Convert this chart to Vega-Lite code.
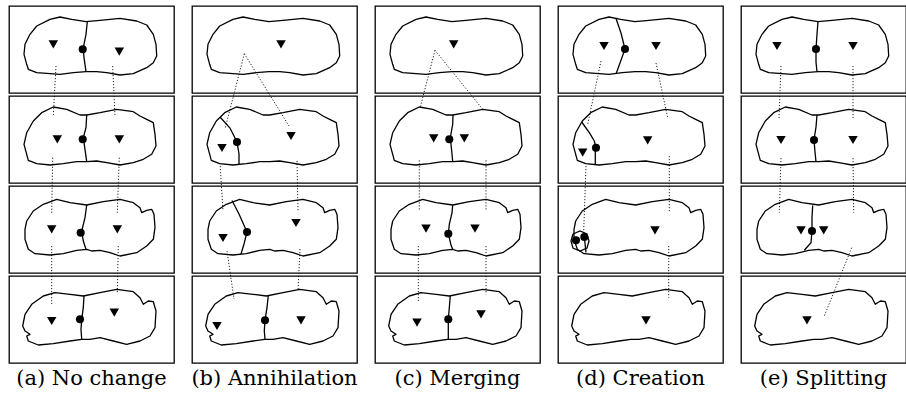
{
"$schema":"https://vega.github.io/schema/vega-lite/v6.json",
"padding":{"left":8,"top":5,"right":0,"bottom":0},
"bounds":"flush",
"background":"white",
"data":{"values":[
{"k":"blob","c":["a","b","c","d","e"],"r":1,"i":0,"x":27.7,"y":20},
{"k":"blob","c":["a","b","c","d","e"],"r":1,"i":1,"x":41,"y":13.3},
{"k":"blob","c":["a","b","c","d","e"],"r":1,"i":2,"x":51,"y":11},
{"k":"blob","c":["a","b","c","d","e"],"r":1,"i":3,"x":62.7,"y":13.3},
{"k":"blob","c":["a","b","c","d","e"],"r":1,"i":4,"x":77,"y":15.7},
{"k":"blob","c":["a","b","c","d","e"],"r":1,"i":5,"x":91,"y":14.3},
{"k":"blob","c":["a","b","c","d","e"],"r":1,"i":6,"x":111,"y":12.3},
{"k":"blob","c":["a","b","c","d","e"],"r":1,"i":7,"x":127.7,"y":15},
{"k":"blob","c":["a","b","c","d","e"],"r":1,"i":8,"x":137.7,"y":19},
{"k":"blob","c":["a","b","c","d","e"],"r":1,"i":9,"x":144.3,"y":28.3},
{"k":"blob","c":["a","b","c","d","e"],"r":1,"i":10,"x":147,"y":38.3},
{"k":"blob","c":["a","b","c","d","e"],"r":1,"i":11,"x":147.7,"y":50},
{"k":"blob","c":["a","b","c","d","e"],"r":1,"i":12,"x":144.3,"y":56.7},
{"k":"blob","c":["a","b","c","d","e"],"r":1,"i":13,"x":137.7,"y":61.7},
{"k":"blob","c":["a","b","c","d","e"],"r":1,"i":14,"x":124.3,"y":67.7},
{"k":"blob","c":["a","b","c","d","e"],"r":1,"i":15,"x":111,"y":69},
{"k":"blob","c":["a","b","c","d","e"],"r":1,"i":16,"x":97.7,"y":66.7},
{"k":"blob","c":["a","b","c","d","e"],"r":1,"i":17,"x":87.7,"y":65.7},
{"k":"blob","c":["a","b","c","d","e"],"r":1,"i":18,"x":77,"y":65.7},
{"k":"blob","c":["a","b","c","d","e"],"r":1,"i":19,"x":64.3,"y":66.7},
{"k":"blob","c":["a","b","c","d","e"],"r":1,"i":20,"x":51,"y":68.3},
{"k":"blob","c":["a","b","c","d","e"],"r":1,"i":21,"x":41,"y":67.7},
{"k":"blob","c":["a","b","c","d","e"],"r":1,"i":22,"x":27.7,"y":66.7},
{"k":"blob","c":["a","b","c","d","e"],"r":1,"i":23,"x":19.3,"y":63.3},
{"k":"blob","c":["a","b","c","d","e"],"r":1,"i":24,"x":17.7,"y":58.3},
{"k":"blob","c":["a","b","c","d","e"],"r":1,"i":25,"x":15,"y":48.3},
{"k":"blob","c":["a","b","c","d","e"],"r":1,"i":26,"x":16,"y":38.3},
{"k":"blob","c":["a","b","c","d","e"],"r":1,"i":27,"x":21,"y":28.3},
{"k":"blob","c":["a","b","c","d","e"],"r":1,"i":28,"x":27.7,"y":20},
{"k":"blob","c":["a","b","c","d","e"],"r":2,"i":0,"x":24.3,"y":25},
{"k":"blob","c":["a","b","c","d","e"],"r":2,"i":1,"x":32.7,"y":16.7},
{"k":"blob","c":["a","b","c","d","e"],"r":2,"i":2,"x":44.3,"y":11},
{"k":"blob","c":["a","b","c","d","e"],"r":2,"i":3,"x":57.7,"y":13.3},
{"k":"blob","c":["a","b","c","d","e"],"r":2,"i":4,"x":71,"y":19},
{"k":"blob","c":["a","b","c","d","e"],"r":2,"i":5,"x":77.7,"y":19},
{"k":"blob","c":["a","b","c","d","e"],"r":2,"i":6,"x":91,"y":16.7},
{"k":"blob","c":["a","b","c","d","e"],"r":2,"i":7,"x":107.7,"y":13.3},
{"k":"blob","c":["a","b","c","d","e"],"r":2,"i":8,"x":124.3,"y":15.7},
{"k":"blob","c":["a","b","c","d","e"],"r":2,"i":9,"x":131,"y":20},
{"k":"blob","c":["a","b","c","d","e"],"r":2,"i":10,"x":137.7,"y":23.3},
{"k":"blob","c":["a","b","c","d","e"],"r":2,"i":11,"x":144.3,"y":26.7},
{"k":"blob","c":["a","b","c","d","e"],"r":2,"i":12,"x":146,"y":38.3},
{"k":"blob","c":["a","b","c","d","e"],"r":2,"i":13,"x":147,"y":50},
{"k":"blob","c":["a","b","c","d","e"],"r":2,"i":14,"x":142.7,"y":58.3},
{"k":"blob","c":["a","b","c","d","e"],"r":2,"i":15,"x":134.3,"y":63.3},
{"k":"blob","c":["a","b","c","d","e"],"r":2,"i":16,"x":124.3,"y":66.7},
{"k":"blob","c":["a","b","c","d","e"],"r":2,"i":17,"x":111,"y":69},
{"k":"blob","c":["a","b","c","d","e"],"r":2,"i":18,"x":97.7,"y":66.7},
{"k":"blob","c":["a","b","c","d","e"],"r":2,"i":19,"x":87.7,"y":65},
{"k":"blob","c":["a","b","c","d","e"],"r":2,"i":20,"x":77.7,"y":65.7},
{"k":"blob","c":["a","b","c","d","e"],"r":2,"i":21,"x":67.7,"y":65.7},
{"k":"blob","c":["a","b","c","d","e"],"r":2,"i":22,"x":54.3,"y":67.7},
{"k":"blob","c":["a","b","c","d","e"],"r":2,"i":23,"x":41,"y":69},
{"k":"blob","c":["a","b","c","d","e"],"r":2,"i":24,"x":27.7,"y":67.7},
{"k":"blob","c":["a","b","c","d","e"],"r":2,"i":25,"x":19.3,"y":64.3},
{"k":"blob","c":["a","b","c","d","e"],"r":2,"i":26,"x":17.7,"y":58.3},
{"k":"blob","c":["a","b","c","d","e"],"r":2,"i":27,"x":15,"y":48.3},
{"k":"blob","c":["a","b","c","d","e"],"r":2,"i":28,"x":17.7,"y":36.7},
{"k":"blob","c":["a","b","c","d","e"],"r":2,"i":29,"x":24.3,"y":25},
{"k":"blob","c":["a","b","c","d","e"],"r":3,"i":0,"x":17.7,"y":35},
{"k":"blob","c":["a","b","c","d","e"],"r":3,"i":1,"x":24.3,"y":25},
{"k":"blob","c":["a","b","c","d","e"],"r":3,"i":2,"x":34.3,"y":18.3},
{"k":"blob","c":["a","b","c","d","e"],"r":3,"i":3,"x":47.7,"y":13.3},
{"k":"blob","c":["a","b","c","d","e"],"r":3,"i":4,"x":61,"y":16.7},
{"k":"blob","c":["a","b","c","d","e"],"r":3,"i":5,"x":77.7,"y":19},
{"k":"blob","c":["a","b","c","d","e"],"r":3,"i":6,"x":94.3,"y":15.7},
{"k":"blob","c":["a","b","c","d","e"],"r":3,"i":7,"x":111,"y":13.3},
{"k":"blob","c":["a","b","c","d","e"],"r":3,"i":8,"x":124.3,"y":16.7},
{"k":"blob","c":["a","b","c","d","e"],"r":3,"i":9,"x":131,"y":21.7},
{"k":"blob","c":["a","b","c","d","e"],"r":3,"i":10,"x":132.7,"y":26.7},
{"k":"blob","c":["a","b","c","d","e"],"r":3,"i":11,"x":137.7,"y":24.3},
{"k":"blob","c":["a","b","c","d","e"],"r":3,"i":12,"x":142.7,"y":23.3},
{"k":"blob","c":["a","b","c","d","e"],"r":3,"i":13,"x":145,"y":28.3},
{"k":"blob","c":["a","b","c","d","e"],"r":3,"i":14,"x":146,"y":41.7},
{"k":"blob","c":["a","b","c","d","e"],"r":3,"i":15,"x":144.3,"y":53.3},
{"k":"blob","c":["a","b","c","d","e"],"r":3,"i":16,"x":137.7,"y":60},
{"k":"blob","c":["a","b","c","d","e"],"r":3,"i":17,"x":127.7,"y":66.7},
{"k":"blob","c":["a","b","c","d","e"],"r":3,"i":18,"x":111,"y":70},
{"k":"blob","c":["a","b","c","d","e"],"r":3,"i":19,"x":101,"y":66.7},
{"k":"blob","c":["a","b","c","d","e"],"r":3,"i":20,"x":91,"y":64.3},
{"k":"blob","c":["a","b","c","d","e"],"r":3,"i":21,"x":82.7,"y":65},
{"k":"blob","c":["a","b","c","d","e"],"r":3,"i":22,"x":77.7,"y":63.3},
{"k":"blob","c":["a","b","c","d","e"],"r":3,"i":23,"x":67.7,"y":64.3},
{"k":"blob","c":["a","b","c","d","e"],"r":3,"i":24,"x":54.3,"y":67.7},
{"k":"blob","c":["a","b","c","d","e"],"r":3,"i":25,"x":41,"y":69},
{"k":"blob","c":["a","b","c","d","e"],"r":3,"i":26,"x":26,"y":67.7},
{"k":"blob","c":["a","b","c","d","e"],"r":3,"i":27,"x":19.3,"y":63.3},
{"k":"blob","c":["a","b","c","d","e"],"r":3,"i":28,"x":16,"y":53.3},
{"k":"blob","c":["a","b","c","d","e"],"r":3,"i":29,"x":16,"y":43.3},
{"k":"blob","c":["a","b","c","d","e"],"r":3,"i":30,"x":17.7,"y":35},
{"k":"blob","c":["a","b","c","d","e"],"r":4,"i":0,"x":16,"y":38.3},
{"k":"blob","c":["a","b","c","d","e"],"r":4,"i":1,"x":22.7,"y":28.3},
{"k":"blob","c":["a","b","c","d","e"],"r":4,"i":2,"x":34.3,"y":20},
{"k":"blob","c":["a","b","c","d","e"],"r":4,"i":3,"x":46,"y":16.7},
{"k":"blob","c":["a","b","c","d","e"],"r":4,"i":4,"x":61,"y":18.3},
{"k":"blob","c":["a","b","c","d","e"],"r":4,"i":5,"x":74.3,"y":20},
{"k":"blob","c":["a","b","c","d","e"],"r":4,"i":6,"x":91,"y":16.7},
{"k":"blob","c":["a","b","c","d","e"],"r":4,"i":7,"x":107.7,"y":13.3},
{"k":"blob","c":["a","b","c","d","e"],"r":4,"i":8,"x":124.3,"y":15.7},
{"k":"blob","c":["a","b","c","d","e"],"r":4,"i":9,"x":131,"y":21.7},
{"k":"blob","c":["a","b","c","d","e"],"r":4,"i":10,"x":134.3,"y":28.3},
{"k":"blob","c":["a","b","c","d","e"],"r":4,"i":11,"x":139.3,"y":25},
{"k":"blob","c":["a","b","c","d","e"],"r":4,"i":12,"x":144.3,"y":25.7},
{"k":"blob","c":["a","b","c","d","e"],"r":4,"i":13,"x":147,"y":35},
{"k":"blob","c":["a","b","c","d","e"],"r":4,"i":14,"x":146,"y":51.7},
{"k":"blob","c":["a","b","c","d","e"],"r":4,"i":15,"x":141,"y":60},
{"k":"blob","c":["a","b","c","d","e"],"r":4,"i":16,"x":131,"y":65},
{"k":"blob","c":["a","b","c","d","e"],"r":4,"i":17,"x":117.7,"y":68.3},
{"k":"blob","c":["a","b","c","d","e"],"r":4,"i":18,"x":104.3,"y":65},
{"k":"blob","c":["a","b","c","d","e"],"r":4,"i":19,"x":91,"y":61.7},
{"k":"blob","c":["a","b","c","d","e"],"r":4,"i":20,"x":81,"y":63.3},
{"k":"blob","c":["a","b","c","d","e"],"r":4,"i":21,"x":72.7,"y":63.3},
{"k":"blob","c":["a","b","c","d","e"],"r":4,"i":22,"x":61,"y":65},
{"k":"blob","c":["a","b","c","d","e"],"r":4,"i":23,"x":44.3,"y":67.7},
{"k":"blob","c":["a","b","c","d","e"],"r":4,"i":24,"x":29.3,"y":69},
{"k":"blob","c":["a","b","c","d","e"],"r":4,"i":25,"x":19.3,"y":65},
{"k":"blob","c":["a","b","c","d","e"],"r":4,"i":26,"x":17.7,"y":60},
{"k":"blob","c":["a","b","c","d","e"],"r":4,"i":27,"x":21,"y":58.3},
{"k":"blob","c":["a","b","c","d","e"],"r":4,"i":28,"x":16,"y":55},
{"k":"blob","c":["a","b","c","d","e"],"r":4,"i":29,"x":13.7,"y":50},
{"k":"blob","c":["a","b","c","d","e"],"r":4,"i":30,"x":16,"y":38.3},

{"k":"bnd","c":["a"],"r":1,"g":"a1","i":0,"x":78.3,"y":15.7},
{"k":"bnd","c":["a"],"r":1,"g":"a1","i":1,"x":77,"y":28.3},
{"k":"bnd","c":["a"],"r":1,"g":"a1","i":2,"x":74.3,"y":41.7},
{"k":"bnd","c":["a"],"r":1,"g":"a1","i":3,"x":75,"y":51.7},
{"k":"bnd","c":["a"],"r":1,"g":"a1","i":4,"x":77,"y":65.7},
{"k":"bnd","c":["a"],"r":2,"g":"a2","i":0,"x":77.7,"y":19},
{"k":"bnd","c":["a"],"r":2,"g":"a2","i":1,"x":77,"y":31.7},
{"k":"bnd","c":["a"],"r":2,"g":"a2","i":2,"x":74.3,"y":41.7},
{"k":"bnd","c":["a"],"r":2,"g":"a2","i":3,"x":76,"y":53.3},
{"k":"bnd","c":["a"],"r":2,"g":"a2","i":4,"x":77.7,"y":65.7},
{"k":"bnd","c":["a"],"r":3,"g":"a3","i":0,"x":77.7,"y":19},
{"k":"bnd","c":["a"],"r":3,"g":"a3","i":1,"x":76,"y":31.7},
{"k":"bnd","c":["a"],"r":3,"g":"a3","i":2,"x":72.7,"y":45},
{"k":"bnd","c":["a"],"r":3,"g":"a3","i":3,"x":74.3,"y":55},
{"k":"bnd","c":["a"],"r":3,"g":"a3","i":4,"x":77,"y":63.3},
{"k":"bnd","c":["a"],"r":4,"g":"a4","i":0,"x":75,"y":19.5},
{"k":"bnd","c":["a"],"r":4,"g":"a4","i":1,"x":74.3,"y":31.7},
{"k":"bnd","c":["a"],"r":4,"g":"a4","i":2,"x":72.7,"y":43.3},
{"k":"bnd","c":["a"],"r":4,"g":"a4","i":3,"x":72,"y":53.3},
{"k":"bnd","c":["a"],"r":4,"g":"a4","i":4,"x":72.7,"y":63.3},
{"k":"bnd","c":["b"],"r":2,"g":"b2","i":0,"x":28,"y":21},
{"k":"bnd","c":["b"],"r":2,"g":"b2","i":1,"x":38,"y":32},
{"k":"bnd","c":["b"],"r":2,"g":"b2","i":2,"x":45,"y":46},
{"k":"bnd","c":["b"],"r":2,"g":"b2","i":3,"x":47,"y":58},
{"k":"bnd","c":["b"],"r":2,"g":"b2","i":4,"x":47,"y":68.5},
{"k":"bnd","c":["b"],"r":3,"g":"b3","i":0,"x":40,"y":14.5},
{"k":"bnd","c":["b"],"r":3,"g":"b3","i":1,"x":47,"y":28},
{"k":"bnd","c":["b"],"r":3,"g":"b3","i":2,"x":55,"y":46},
{"k":"bnd","c":["b"],"r":3,"g":"b3","i":3,"x":52,"y":58},
{"k":"bnd","c":["b"],"r":3,"g":"b3","i":4,"x":49,"y":68},
{"k":"bnd","c":["b"],"r":4,"g":"b4","i":0,"x":76.3,"y":19.5},
{"k":"bnd","c":["b"],"r":4,"g":"b4","i":1,"x":75,"y":31.7},
{"k":"bnd","c":["b"],"r":4,"g":"b4","i":2,"x":73,"y":44.3},
{"k":"bnd","c":["b"],"r":4,"g":"b4","i":3,"x":72.3,"y":55},
{"k":"bnd","c":["b"],"r":4,"g":"b4","i":4,"x":73,"y":63.3},
{"k":"bnd","c":["c"],"r":2,"g":"c2","i":0,"x":78,"y":19},
{"k":"bnd","c":["c"],"r":2,"g":"c2","i":1,"x":77.7,"y":28.3},
{"k":"bnd","c":["c"],"r":2,"g":"c2","i":2,"x":75.3,"y":41.7},
{"k":"bnd","c":["c"],"r":2,"g":"c2","i":3,"x":76.7,"y":55},
{"k":"bnd","c":["c"],"r":2,"g":"c2","i":4,"x":77.7,"y":65.7},
{"k":"bnd","c":["c"],"r":3,"g":"c3","i":0,"x":77.7,"y":19},
{"k":"bnd","c":["c"],"r":3,"g":"c3","i":1,"x":77,"y":27},
{"k":"bnd","c":["c"],"r":3,"g":"c3","i":2,"x":74.3,"y":38.3},
{"k":"bnd","c":["c"],"r":3,"g":"c3","i":3,"x":73.3,"y":47.7},
{"k":"bnd","c":["c"],"r":3,"g":"c3","i":4,"x":76,"y":59},
{"k":"bnd","c":["c"],"r":3,"g":"c3","i":5,"x":77.7,"y":63.3},
{"k":"bnd","c":["c"],"r":4,"g":"c4","i":0,"x":75.3,"y":19.8},
{"k":"bnd","c":["c"],"r":4,"g":"c4","i":1,"x":74.3,"y":31.7},
{"k":"bnd","c":["c"],"r":4,"g":"c4","i":2,"x":73.3,"y":43.3},
{"k":"bnd","c":["c"],"r":4,"g":"c4","i":3,"x":73.3,"y":55},
{"k":"bnd","c":["c"],"r":4,"g":"c4","i":4,"x":73.3,"y":63.3},
{"k":"bnd","c":["d"],"r":1,"g":"d1","i":0,"x":58,"y":12.5},
{"k":"bnd","c":["d"],"r":1,"g":"d1","i":1,"x":63,"y":27},
{"k":"bnd","c":["d"],"r":1,"g":"d1","i":2,"x":67,"y":43},
{"k":"bnd","c":["d"],"r":1,"g":"d1","i":3,"x":62,"y":57},
{"k":"bnd","c":["d"],"r":1,"g":"d1","i":4,"x":58,"y":68},
{"k":"bnd","c":["d"],"r":2,"g":"d2","i":0,"x":23.7,"y":26},
{"k":"bnd","c":["d"],"r":2,"g":"d2","i":1,"x":31.3,"y":36.7},
{"k":"bnd","c":["d"],"r":2,"g":"d2","i":2,"x":36.3,"y":45},
{"k":"bnd","c":["d"],"r":2,"g":"d2","i":3,"x":38,"y":51.7},
{"k":"bnd","c":["d"],"r":2,"g":"d2b","i":0,"x":37.3,"y":51.7},
{"k":"bnd","c":["d"],"r":2,"g":"d2b","i":1,"x":37.3,"y":61.7},
{"k":"bnd","c":["d"],"r":2,"g":"d2b","i":2,"x":37.3,"y":68.5},
{"k":"bnd","c":["d"],"r":3,"g":"d3","i":0,"x":15,"y":48},
{"k":"bnd","c":["d"],"r":3,"g":"d3","i":1,"x":22,"y":45},
{"k":"bnd","c":["d"],"r":3,"g":"d3","i":2,"x":29,"y":48},
{"k":"bnd","c":["d"],"r":3,"g":"d3","i":3,"x":31,"y":55},
{"k":"bnd","c":["d"],"r":3,"g":"d3","i":4,"x":29,"y":62},
{"k":"bnd","c":["d"],"r":3,"g":"d3","i":5,"x":22,"y":65},
{"k":"bnd","c":["d"],"r":3,"g":"d3","i":6,"x":15,"y":62},
{"k":"bnd","c":["d"],"r":3,"g":"d3","i":7,"x":13,"y":55},
{"k":"bnd","c":["d"],"r":3,"g":"d3","i":8,"x":15,"y":48},
{"k":"bnd","c":["d"],"r":3,"g":"d3b","i":0,"x":26.3,"y":51},
{"k":"bnd","c":["d"],"r":3,"g":"d3b","i":1,"x":28,"y":66.5},
{"k":"bnd","c":["e"],"r":1,"g":"e1","i":0,"x":77,"y":15.7},
{"k":"bnd","c":["e"],"r":1,"g":"e1","i":1,"x":76,"y":28},
{"k":"bnd","c":["e"],"r":1,"g":"e1","i":2,"x":75,"y":43},
{"k":"bnd","c":["e"],"r":1,"g":"e1","i":3,"x":75,"y":56},
{"k":"bnd","c":["e"],"r":1,"g":"e1","i":4,"x":76,"y":65.7},
{"k":"bnd","c":["e"],"r":2,"g":"e2","i":0,"x":76,"y":19},
{"k":"bnd","c":["e"],"r":2,"g":"e2","i":1,"x":75,"y":31},
{"k":"bnd","c":["e"],"r":2,"g":"e2","i":2,"x":73,"y":44},
{"k":"bnd","c":["e"],"r":2,"g":"e2","i":3,"x":74,"y":56},
{"k":"bnd","c":["e"],"r":2,"g":"e2","i":4,"x":75,"y":65.7},
{"k":"bnd","c":["e"],"r":3,"g":"e3","i":0,"x":71.7,"y":19.5},
{"k":"bnd","c":["e"],"r":3,"g":"e3","i":1,"x":71,"y":31.7},
{"k":"bnd","c":["e"],"r":3,"g":"e3","i":2,"x":71,"y":45},
{"k":"bnd","c":["e"],"r":3,"g":"e3","i":3,"x":70,"y":56.7},
{"k":"bnd","c":["e"],"r":3,"g":"e3","i":4,"x":63.3,"y":64.3},

{"k":"tri","c":["a"],"r":1,"x":44.3,"y":38.3},{"k":"tri","c":["a"],"r":1,"x":110.3,"y":45.7},{"k":"dot","c":["a"],"r":1,"x":73.7,"y":43.3},
{"k":"tri","c":["a"],"r":2,"x":48.3,"y":43.3},{"k":"tri","c":["a"],"r":2,"x":110.3,"y":43.3},{"k":"dot","c":["a"],"r":2,"x":73.7,"y":43.3},
{"k":"tri","c":["a"],"r":3,"x":42.7,"y":43.3},{"k":"tri","c":["a"],"r":3,"x":108.3,"y":43.3},{"k":"dot","c":["a"],"r":3,"x":71.7,"y":46.7},
{"k":"tri","c":["a"],"r":4,"x":42.7,"y":45},{"k":"tri","c":["a"],"r":4,"x":105.3,"y":36.7},{"k":"dot","c":["a"],"r":4,"x":71,"y":43.3},
{"k":"tri","c":["b"],"r":1,"x":89,"y":38.3},
{"k":"tri","c":["b"],"r":2,"x":30,"y":52},{"k":"tri","c":["b"],"r":2,"x":99,"y":40},{"k":"dot","c":["b"],"r":2,"x":45,"y":46},
{"k":"tri","c":["b"],"r":3,"x":31,"y":52},{"k":"tri","c":["b"],"r":3,"x":104,"y":37},{"k":"dot","c":["b"],"r":3,"x":55,"y":46},
{"k":"tri","c":["b"],"r":4,"x":25,"y":50},{"k":"tri","c":["b"],"r":4,"x":109,"y":44.3},{"k":"dot","c":["b"],"r":4,"x":73,"y":44.3},
{"k":"tri","c":["c"],"r":1,"x":78.7,"y":38.3},
{"k":"tri","c":["c"],"r":2,"x":58.7,"y":42.3},{"k":"tri","c":["c"],"r":2,"x":89.3,"y":42.3},{"k":"dot","c":["c"],"r":2,"x":74.3,"y":43.3},
{"k":"tri","c":["c"],"r":3,"x":51,"y":42.7},{"k":"tri","c":["c"],"r":3,"x":100,"y":42.7},{"k":"dot","c":["c"],"r":3,"x":73.3,"y":47.7},
{"k":"tri","c":["c"],"r":4,"x":42,"y":46.7},{"k":"tri","c":["c"],"r":4,"x":106,"y":38.3},{"k":"dot","c":["c"],"r":4,"x":73.3,"y":43.3},
{"k":"tri","c":["d"],"r":1,"x":46,"y":40},{"k":"tri","c":["d"],"r":1,"x":98,"y":40},{"k":"dot","c":["d"],"r":1,"x":67,"y":43},
{"k":"tri","c":["d"],"r":2,"x":24.7,"y":56.7},{"k":"tri","c":["d"],"r":2,"x":89.7,"y":44.3},{"k":"dot","c":["d"],"r":2,"x":38,"y":51.7},
{"k":"tri","c":["d"],"r":3,"x":97,"y":44.3},{"k":"dot","c":["d"],"r":3,"x":18,"y":54.3},{"k":"dot","c":["d"],"r":3,"x":26.3,"y":51},
{"k":"tri","c":["d"],"r":4,"x":88,"y":44.3},
{"k":"tri","c":["e"],"r":1,"x":36,"y":40},{"k":"tri","c":["e"],"r":1,"x":112,"y":40},{"k":"dot","c":["e"],"r":1,"x":75,"y":43},
{"k":"tri","c":["e"],"r":2,"x":40,"y":44},{"k":"tri","c":["e"],"r":2,"x":112,"y":44},{"k":"dot","c":["e"],"r":2,"x":73,"y":44},
{"k":"tri","c":["e"],"r":3,"x":60,"y":44.3},{"k":"tri","c":["e"],"r":3,"x":82.7,"y":44.3},{"k":"dot","c":["e"],"r":3,"x":71,"y":45},
{"k":"tri","c":["e"],"r":4,"x":66,"y":44.3},

{"k":"link","c":["a"],"r":1,"x":47,"y":60,"x2":44.3,"y2":110},
{"k":"link","c":["a"],"r":1,"x":103.7,"y":60,"x2":106,"y2":110},
{"k":"link","c":["a"],"r":2,"x":43.7,"y":61.7,"x2":42.7,"y2":118},
{"k":"link","c":["a"],"r":2,"x":110.3,"y":61.7,"x2":108.3,"y2":116.7},
{"k":"link","c":["a"],"r":3,"x":42.7,"y":60,"x2":42.7,"y2":118},
{"k":"link","c":["a"],"r":3,"x":109.3,"y":60,"x2":108.3,"y2":108},
{"k":"link","c":["b"],"r":1,"x":52.3,"y":47.7,"x2":33,"y2":123},
{"k":"link","c":["b"],"r":1,"x":52.3,"y":47.7,"x2":97,"y2":120},
{"k":"link","c":["b"],"r":2,"x":28,"y":67,"x2":31,"y2":115},
{"k":"link","c":["b"],"r":2,"x":105,"y":65,"x2":106,"y2":115},
{"k":"link","c":["b"],"r":3,"x":35,"y":65,"x2":42,"y2":113},
{"k":"link","c":["b"],"r":3,"x":108,"y":63,"x2":106,"y2":105},
{"k":"link","c":["c"],"r":1,"x":60,"y":44.3,"x2":45.3,"y2":101},
{"k":"link","c":["c"],"r":1,"x":60,"y":44.3,"x2":107.7,"y2":103.3},
{"k":"link","c":["c"],"r":2,"x":44.3,"y":64.3,"x2":44.3,"y2":114},
{"k":"link","c":["c"],"r":2,"x":111,"y":64.3,"x2":111,"y2":114},
{"k":"link","c":["c"],"r":3,"x":43.3,"y":60,"x2":43.3,"y2":115},
{"k":"link","c":["c"],"r":3,"x":111,"y":60,"x2":111,"y2":108.3},
{"k":"link","c":["d"],"r":1,"x":43,"y":55,"x2":29.7,"y2":118.3},
{"k":"link","c":["d"],"r":1,"x":98,"y":57,"x2":109.7,"y2":111.7},
{"k":"link","c":["d"],"r":2,"x":28,"y":70,"x2":25.7,"y2":135},
{"k":"link","c":["d"],"r":2,"x":111.3,"y":60,"x2":111.3,"y2":116.7},
{"k":"link","c":["d"],"r":3,"x":110.7,"y":60,"x2":110.7,"y2":111.7},
{"k":"link","c":["e"],"r":1,"x":40,"y":60,"x2":38,"y2":112},
{"k":"link","c":["e"],"r":1,"x":112,"y":60,"x2":112,"y2":112},
{"k":"link","c":["e"],"r":2,"x":40,"y":62,"x2":38.3,"y2":116.7},
{"k":"link","c":["e"],"r":2,"x":112,"y":62,"x2":112.7,"y2":116.7},
{"k":"link","c":["e"],"r":3,"x":110.7,"y":61.7,"x2":83.3,"y2":130}
]},
"transform":[{"flatten":["c"],"as":["col"]}],
"facet":{
 "row":{"field":"r","type":"ordinal","header":{"labels":false,"title":null}},
 "column":{"field":"col","type":"nominal","header":{"title":null,"labelOrient":"bottom","labelFont":"DejaVu Serif","labelFontSize":21,"labelColor":"#000","labelPadding":5,"labelBaseline":"top","labelExpr":"datum.value=='a'?'(a) No change':datum.value=='b'?'(b) Annihilation':datum.value=='c'?'(c) Merging':datum.value=='d'?'(d) Creation':'(e) Splitting'"}}
},
"spacing":{"row":3,"column":18},
"spec":{
 "width":165,"height":87,
 "encoding":{
  "x":{"field":"x","type":"quantitative","scale":{"domain":[0,165],"nice":false,"zero":false},"axis":null},
  "y":{"field":"y","type":"quantitative","scale":{"domain":[0,87],"reverse":true,"nice":false,"zero":false},"axis":null}
 },
 "layer":[
  {"transform":[{"filter":"datum.k=='link'"}],"mark":{"type":"rule","stroke":"#222","strokeWidth":1,"strokeDash":[1.2,1.8]},
   "encoding":{"x2":{"field":"x2"},"y2":{"field":"y2"}}},
  {"transform":[{"filter":"datum.k=='blob'"}],"mark":{"type":"line","stroke":"#000","strokeWidth":1.3,"strokeJoin":"round"},
   "encoding":{"order":{"field":"i","type":"quantitative"}}},
  {"transform":[{"filter":"datum.k=='bnd'"}],"mark":{"type":"line","stroke":"#000","strokeWidth":1.3},
   "encoding":{"detail":{"field":"g","type":"nominal"},"order":{"field":"i","type":"quantitative"}}},
  {"transform":[{"filter":"datum.k=='tri'"}],"mark":{"type":"point","shape":"triangle-down","filled":true,"fill":"#000","opacity":1,"size":90,"strokeWidth":0}},
  {"transform":[{"filter":"datum.k=='dot'"}],"mark":{"type":"point","shape":"circle","filled":true,"fill":"#000","opacity":1,"size":65,"strokeWidth":0}}
 ]
},
"config":{"view":{"stroke":"#000","strokeWidth":1.3}}
}
